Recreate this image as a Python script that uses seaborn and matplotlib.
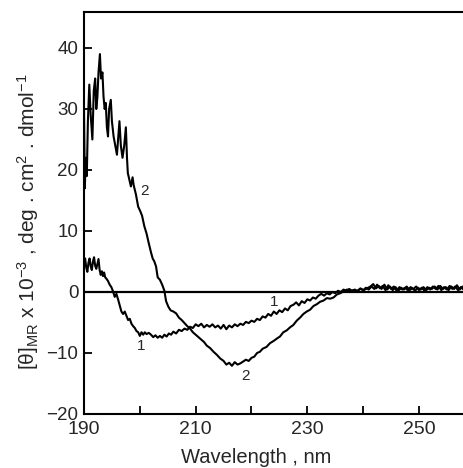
import numpy as np
import pandas as pd
import matplotlib
matplotlib.use("Agg")
import matplotlib.pyplot as plt
import seaborn as sns

# curve 1 (wavelength nm, ellipticity x 10^-3)
wl1 = [190.0, 190.2, 190.4, 190.6, 190.8, 191.0, 191.2, 191.4, 191.6, 191.8, 192.0, 192.2, 192.4, 192.6, 192.8,
       193.0, 193.2, 193.4, 193.6, 193.8, 194.0, 194.3, 194.6, 194.9, 195.2, 195.5, 195.8, 196.1, 196.4, 196.7,
       197.0, 197.3, 197.6, 197.9, 198.2, 198.5, 198.8, 199.1, 199.4, 199.7, 200.0, 200.3, 200.6, 200.9, 201.2,
       201.6, 202.0, 202.4, 202.8, 203.2, 203.6, 204.0, 204.4, 204.8, 205.2, 205.6, 206.0, 206.5, 207.0, 207.5,
       208.0, 208.5, 209.0, 209.5, 210.0, 210.5, 211.0, 211.5, 212.0, 212.5, 213.0, 213.5, 214.0, 214.5, 215.0,
       215.5, 216.0, 216.5, 217.0, 217.5, 218.0, 218.5, 219.0, 219.5, 220.0, 220.5, 221.0, 221.5, 222.0, 222.5,
       223.0, 223.5, 224.0, 224.5, 225.0, 225.5, 226.0, 226.5, 227.0, 227.5, 228.0, 228.5, 229.0, 229.5, 230.0,
       230.5, 231.0, 231.5, 232.0, 232.5, 233.0, 233.5, 234.0, 234.5, 235.0, 235.5, 236.0, 236.5, 237.0, 237.5,
       238.0, 238.5, 239.0, 239.5, 240.0, 240.5, 241.0, 241.5, 242.0, 242.5, 243.0, 243.5, 244.0, 244.5, 245.0,
       245.5, 246.0, 246.5, 247.0, 247.5, 248.0, 248.5, 249.0, 249.5, 250.0, 250.5, 251.0, 251.5, 252.0, 252.5,
       253.0, 253.5, 254.0, 254.5, 255.0, 255.5, 256.0, 256.5, 257.0, 257.5, 258.0, 258.5]
th1 = [4.5, 5.5, 4.0, 3.3, 4.8, 5.5, 4.2, 3.6, 5.0, 5.7, 4.3, 3.8, 4.6, 5.4, 3.6,
       2.8, 3.4, 2.6, 3.2, 2.4, 2.2, 1.8, 1.2, 0.8, 0.1, -0.8, -0.3, -1.2, -2.2, -3.2,
       -3.6, -3.2, -3.9, -4.6, -4.4, -5.2, -5.6, -5.9, -6.4, -6.6, -7.2, -6.6, -7.0, -6.6, -6.9,
       -6.7, -7.0, -7.4, -7.1, -7.5, -7.2, -7.5, -7.0, -7.3, -6.8, -7.0, -6.5, -6.8, -6.2, -6.4,
       -6.0, -6.2, -5.7, -5.9, -5.3, -5.6, -5.2, -5.8, -5.4, -5.7, -5.3, -5.8, -5.5, -6.0, -5.4,
       -6.1, -5.5, -5.8, -5.3, -5.6, -5.2, -5.4, -4.9, -5.1, -4.7, -4.9, -4.4, -4.6, -4.0, -4.2,
       -3.6, -3.9, -3.2, -3.6, -3.0, -3.3, -2.7, -3.0, -2.3, -2.1, -1.7, -2.2, -1.5, -1.8, -1.2,
       -1.4, -0.9, -1.1, -0.6, -0.3, -0.6, -0.2, -0.4, 0.0, -0.2, 0.2, 0.0, 0.4, 0.1, 0.5,
       0.2, 0.4, 0.1, 0.6, 0.3, 0.7, 0.4, 0.9, 0.5, 1.2, 0.6, 1.0, 0.3, 1.1, 0.5,
       0.9, 0.2, 0.8, 0.4, 0.7, 0.3, 0.8, 0.5, 0.9, 0.3, 0.7, 0.2, 0.8, 0.4, 0.9,
       0.5, 1.0, 0.3, 0.8, 0.4, 1.0, 0.5, 0.9, 0.3, 0.8, 0.4, 0.7]

# curve 2
wl2 = [190.0, 190.15, 190.3, 190.5, 190.7, 190.95, 191.2, 191.5, 191.75, 192.0, 192.2, 192.4, 192.6, 192.85,
       193.05, 193.3, 193.5, 193.7, 193.9, 194.1, 194.3, 194.5, 194.8, 195.0, 195.3, 195.6, 195.9, 196.1,
       196.35, 196.6, 196.9, 197.2, 197.5, 197.7, 197.85, 198.1, 198.4, 198.7, 198.9, 199.3, 199.7, 200.1,
       200.4, 200.8, 201.2, 201.6, 202.0, 202.3, 202.6, 202.9, 203.2, 203.6, 204.0, 204.4, 204.7, 205.1,
       205.5, 206.0, 206.5, 207.0, 207.5, 208.0, 208.5, 209.0, 209.5, 210.0, 210.5, 211.0, 211.5, 212.0,
       212.6, 213.2, 213.8, 214.4, 215.0, 215.5, 216.0, 216.5, 217.0, 217.5, 218.0, 218.5, 219.0, 219.5,
       220.0, 220.5, 221.0, 221.5, 222.0, 222.7, 223.3, 224.0, 224.6, 225.1, 225.7, 226.3, 226.9, 227.5,
       228.1, 228.7, 229.3, 229.9, 230.5, 231.1, 231.7, 232.3, 232.9, 233.5, 234.1, 234.7, 235.3, 235.9,
       236.5, 237.1, 237.7, 238.3, 238.9, 239.5, 240.1, 240.7, 241.3, 241.8, 242.3, 242.8, 243.3, 243.8,
       244.3, 244.8, 245.3, 245.8, 246.3, 246.8, 247.3, 247.8, 248.3, 248.8, 249.3, 249.8, 250.3, 250.8,
       251.3, 251.8, 252.3, 252.8, 253.3, 253.8, 254.3, 254.8, 255.3, 255.8, 256.3, 256.8, 257.3, 257.8, 258.3]
th2 = [30, 17, 22, 19, 28, 34, 29, 25, 33, 35, 30, 32, 36, 39,
       35, 36, 32, 30, 31, 27, 25.5, 30, 31.5, 28, 25.5, 24, 22.5, 25,
       28, 24, 22, 24, 27, 22, 19.5, 18.5, 17.3, 18.8, 17.5, 16, 14, 13.2,
       12.5, 10.8, 9.6, 8, 6.5, 5.5, 5.0, 4.2, 2.4, 2.0, 1.2, 0.2, -1.5, -2.4,
       -3.0, -3.2, -3.5, -4.2, -4.6, -5.1, -5.6, -6.0, -6.6, -7.0, -7.4, -7.8, -8.2, -8.8,
       -9.2, -9.8, -10.3, -10.9, -11.3, -11.9, -11.6, -12.1, -11.5, -11.9, -11.7, -11.4, -11.1, -11.3,
       -10.8, -10.6, -10.0, -9.8, -9.3, -9.0, -8.4, -8.0, -7.6, -7.3, -6.6, -6.3, -5.8, -5.4,
       -4.7, -4.2, -3.6, -3.2, -2.9, -2.3, -2.0, -1.6, -1.4, -1.0, -1.1, -0.9, -0.4, -0.2,
       0.1, 0.4, 0.1, 0.3, 0.2, 0.5, 0.3, 0.6, 0.9, 1.3, 0.6, 1.0, 0.5, 1.2,
       0.4, 0.9, 0.3, 0.8, 0.2, 0.7, 0.4, 0.9, 0.3, 0.6, 0.2, 0.7, 0.4, 0.8,
       0.3, 0.7, 0.5, 0.9, 0.4, 1.0, 0.5, 0.8, 0.3, 0.9, 0.5, 1.1, 0.4, 0.9, 0.5]

# curve number labels (x, y, text)
lab_x = [200.9, 218.9, 200.3, 224.0]
lab_y = [16.5, -13.8, -8.8, -1.6]
lab_t = ["2", "2", "1", "1"]

df = pd.concat([
    pd.DataFrame({"wl": wl1, "theta": th1, "curve": "1"}),
    pd.DataFrame({"wl": wl2, "theta": th2, "curve": "2"}),
])

sns.set_style("ticks")
plt.rcParams["font.family"] = ["Liberation Sans", "DejaVu Sans"]
plt.rcParams["mathtext.fontset"] = "custom"
plt.rcParams["mathtext.rm"] = "Liberation Sans"
plt.rcParams["mathtext.it"] = "Liberation Sans:italic"

fig = plt.figure(figsize=(4.64, 4.68), dpi=100)
ax = fig.add_axes([84 / 464, 54 / 468, (258.5 - 190) * 5.583 / 464, 402 / 468])

sns.lineplot(data=df, x="wl", y="theta", units="curve", estimator=None, sort=False,
             color="black", lw=1.5, ax=ax)
ax.axhline(0, color="black", lw=1.6, zorder=1)

for x, y, t in zip(lab_x, lab_y, lab_t):
    ax.text(x, y, t, fontsize=11, ha="center", va="center")

ax.set_xlim(190, 258.5)
ax.set_ylim(-20, 45.9)
ax.set_xticks([190, 210, 230, 250])
ax.set_xticks([200, 220, 240], minor=True)
ax.set_yticks([-20, -10, 0, 10, 20, 30, 40])
ax.tick_params(axis="both", which="both", direction="in", length=6, width=1.3, color="black")
ax.tick_params(axis="x", labelsize=14, pad=5)
ax.tick_params(axis="y", labelsize=13.5, pad=4)
for s in ["left", "bottom", "top"]:
    ax.spines[s].set_linewidth(1.5)
    ax.spines[s].set_color("black")
ax.spines["right"].set_visible(False)

ax.set_xlabel("Wavelength , nm", fontsize=14.5)
ax.xaxis.set_label_coords(0.45, -0.085)
ax.set_ylabel("[θ]$_{\\rm MR}$ x 10$^{-3}$ , deg . cm$^{2}$ . dmol$^{-1}$", fontsize=15)
ax.yaxis.set_label_coords(-0.112, 0.478)

fig.savefig("out.png", dpi=100)
